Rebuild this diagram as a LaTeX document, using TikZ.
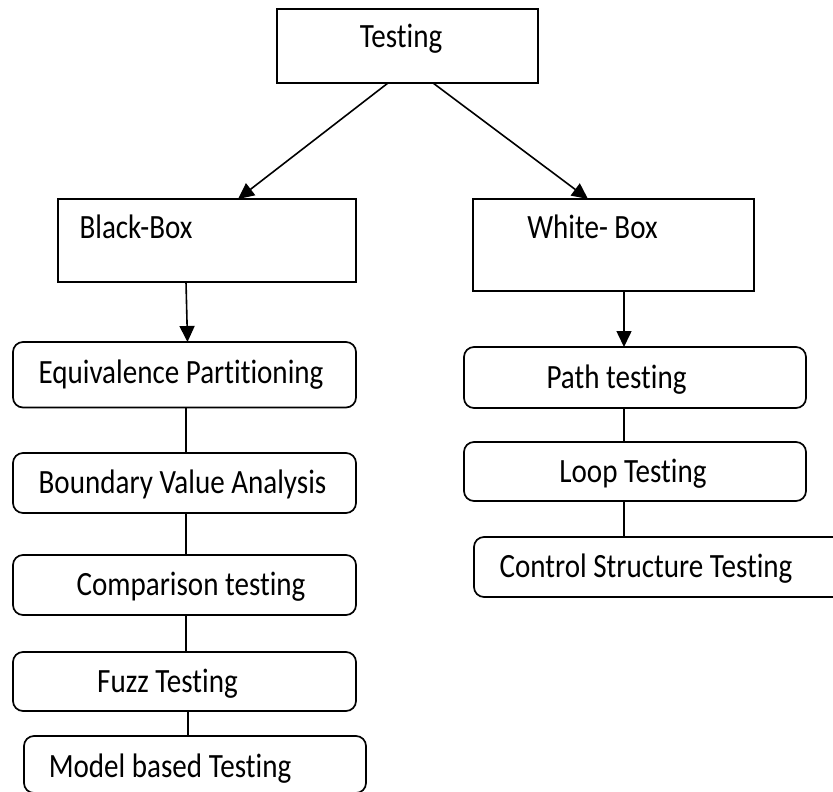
\documentclass[tikz,border=0pt]{standalone}
\usepackage{fontspec}
\setmainfont[FakeStretch=0.855, Ligatures={NoCommon}, RawFeature={-liga;-dlig}]{Carlito}
\usetikzlibrary{arrows.meta}
\begin{document}
\begin{tikzpicture}[x=1pt,y=-1pt,
  box/.style={draw, line width=1.7pt, inner sep=0pt, outer sep=0pt},
  sharpbox/.style={box},
  roundbox/.style={box, rounded corners=10pt},
  lbl/.style={anchor=base, inner sep=0pt, outer sep=0pt, font=\fontsize{34}{38}\selectfont},
  link/.style={line width=1.6pt},
  arrow/.style={link, -{Triangle[length=16pt,width=15pt]}}]
\useasboundingbox (0,0) rectangle (833,792);
\clip (0,0) rectangle (833,792);

% top level
\node[sharpbox, minimum width=261pt, minimum height=74pt] (T) at (407.5,46) {};
\node[lbl] (tT) at (401,48) {Testing};

% the two families
\node[sharpbox, minimum width=298pt, minimum height=83pt] (BB) at (207,240.5) {};
\node[lbl] (tBB) at (136,238) {Black-Box};
\node[sharpbox, minimum width=281pt, minimum height=92pt] (WB) at (613.5,245) {};
\node[lbl] (tWB) at (592.5,238) {White- Box};

% black-box techniques
\node[roundbox, minimum width=343pt, minimum height=65.5pt] (EP) at (184.5,374.75) {};
\node[lbl] (tEP) at (181,383) {Equivalence Partitioning};
\node[roundbox, minimum width=343pt, minimum height=60pt] (BV) at (184.5,483) {};
\node[lbl] (tBV) at (182.5,493) {Boundary Value Analysis};
\node[roundbox, minimum width=343pt, minimum height=60pt] (CT) at (184.5,585) {};
\node[lbl] (tCT) at (191,595) {Comparison testing};
\node[roundbox, minimum width=343pt, minimum height=59pt] (FT) at (184.5,681.5) {};
\node[lbl] (tFT) at (167.5,692) {Fuzz Testing};
\node[roundbox, minimum width=342pt, minimum height=57pt] (MB) at (195,764.5) {};
\node[lbl] (tMB) at (170,777) {Model based Testing};

% white-box techniques
\node[roundbox, minimum width=342pt, minimum height=61pt] (PT) at (635,377.5) {};
\node[lbl] (tPT) at (616.5,388) {Path testing};
\node[roundbox, minimum width=342pt, minimum height=59pt] (LT) at (635,471.5) {};
\node[lbl] (tLT) at (633,482) {Loop Testing};
\node[roundbox, minimum width=371pt, minimum height=60pt] (CS) at (659.5,567) {};
\node[lbl] (tCS) at (646,577) {Control Structure Testing};

% connectors
\draw[arrow] ([xshift=-19.5pt]T.south) -- ([xshift=31pt]BB.north);
\draw[arrow] ([xshift=25.5pt]T.south) -- ([xshift=-25.5pt]WB.north);
\draw[arrow] ([xshift=-21pt]BB.south) -- ([xshift=3pt]EP.north);
\draw[link] ([xshift=1.5pt]EP.south) -- ([xshift=1.5pt]BV.north);
\draw[link] ([xshift=1.5pt]BV.south) -- ([xshift=1.5pt]CT.north);
\draw[link] ([xshift=1.5pt]CT.south) -- ([xshift=1.5pt]FT.north);
\draw[link] ([xshift=3.5pt]FT.south) -- ([xshift=-7pt]MB.north);
\draw[arrow] ([xshift=10.5pt]WB.south) -- ([xshift=-11pt]PT.north);
\draw[link] ([xshift=-11pt]PT.south) -- ([xshift=-11pt]LT.north);
\draw[link] ([xshift=-11pt]LT.south) -- ([xshift=-35.5pt]CS.north);
\end{tikzpicture}
\end{document}
